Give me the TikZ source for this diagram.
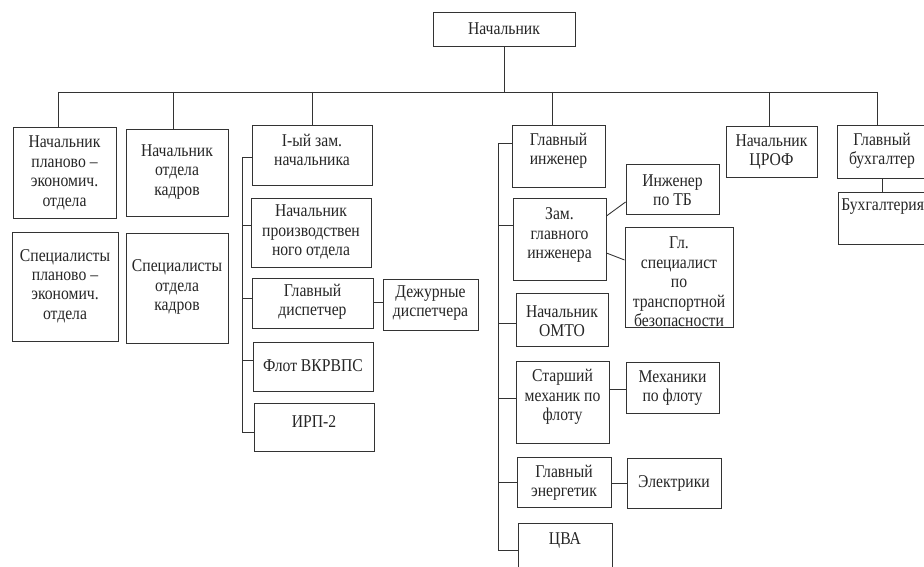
\documentclass[tikz,border=0pt]{standalone}
\usepackage{fontspec}
\setmainfont[FakeStretch=0.87]{Liberation Serif}
\begin{document}
\begin{tikzpicture}[x=0.75pt,y=-0.75pt,
  box/.style={draw=black!80,line width=0.65pt,rectangle,inner sep=0pt,fill=white},
  txt/.style={align=center,inner sep=0pt,font=\fontsize{13.5}{14.6}\selectfont,text=black!85},
  ln/.style={draw=black!80,line width=0.65pt}]
\useasboundingbox (0,0) rectangle (924,567);
\clip (0,0) rectangle (924,567);
\fill[white] (0,0) rectangle (924,567);
\newcommand\bxx[8]{%
  \pgfmathsetmacro\bw{(#4-#2)*0.75}%
  \pgfmathsetmacro\bh{(#5-#3)*0.75}%
  \node[box,minimum width=\bw pt,minimum height=\bh pt] (#1) at ({(#2+#4)/2},{(#3+#5)/2}) {};
  \node[txt] (#1t) at ({#6},{#7}) {#8};}
\newcommand\bx[7]{\bxx{#1}{#2}{#3}{#4}{#5}{(#2+#4)/2}{#6}{#7}}
% boxes
\bx{top}{433}{12}{575}{46}{29}{Начальник}
\bx{b1}{13}{127}{116}{218}{173}{Начальник\\планово –\\экономич.\\отдела}
\bx{b2}{126}{129}{228}{216}{172}{Начальник\\отдела\\кадров}
\bx{b1b}{12}{232}{118}{341}{286}{Специалисты\\планово –\\экономич.\\отдела}
\bx{b2b}{126}{233}{228}{343}{287}{Специалисты\\отдела\\кадров}
\bx{z1}{252}{125}{372}{185}{150}{I-ый зам.\\начальника}
\bx{prod}{251}{198}{371}{267}{232}{Начальник\\производствен\\ного отдела}
\bx{disp}{252}{278}{373}{328}{302}{Главный\\диспетчер}
\bx{duty}{383}{279}{478}{330}{303}{Дежурные\\диспетчера}
\bx{flot}{253}{342}{373}{391}{366}{Флот ВКРВПС}
\bx{irp}{254}{403}{374}{451}{422}{ИРП-2}
\bx{gi}{512}{125}{605}{187}{151}{Главный\\инженер}
\bx{zam}{513}{198}{606}{280}{235}{Зам.\\главного\\инженера}
\bx{tb}{626}{164}{719}{214}{190}{Инженер\\по ТБ}
\bx{gs}{625}{227}{733}{327}{282}{Гл.\\специалист\\по\\транспортной\\безопасности}
\bx{omto}{516}{293}{608}{346}{321}{Начальник\\ОМТО}
\bx{smech}{516}{361}{609}{443}{397}{Старший\\механик по\\флоту}
\bx{mech}{626}{362}{719}{413}{388}{Механики\\по флоту}
\bx{energ}{517}{457}{611}{507}{483}{Главный\\энергетик}
\bx{elec}{627}{458}{721}{508}{483}{Электрики}
\bx{cva}{518}{523}{612}{600}{540}{ЦВА}
\bx{crof}{726}{126}{817}{177}{152}{Начальник\\ЦРОФ}
\bxx{gb}{837}{125}{960}{178}{882}{151}{Главный\\бухгалтер}
\pgfmathsetmacro\bw{(960-838)*0.75}
\pgfmathsetmacro\bh{(244-192)*0.75}
\node[box,minimum width=\bw pt,minimum height=\bh pt] (buh) at (899,218) {};
\node[txt,anchor=west] (buht) at (841,207) {Бухгалтерия};
% bus and drops
\coordinate (bus) at (504,92);
\coordinate (j1) at (58,92);
\coordinate (j2) at (173,92);
\coordinate (j3) at (312,92);
\coordinate (j4) at (552,92);
\coordinate (j5) at (769,92);
\coordinate (j6) at (877,92);
\draw[ln] (top.south) -- (top.south |- bus);
\draw[ln] (j1) -- (j6);
\draw[ln] (j1) -- (j1 |- b1.north);
\draw[ln] (j2) -- (j2 |- b2.north);
\draw[ln] (j3) -- (j3 |- z1.north);
\draw[ln] (j4) -- (j4 |- gi.north);
\draw[ln] (j5) -- (j5 |- crof.north);
\draw[ln] (j6) -- (j6 |- gb.north);
% left spine
\coordinate (s1) at (242,157);
\coordinate (s2) at (242,432);
\draw[ln] (z1.west |- s1) -- (s1) -- (s2) -- (irp.west |- s2);
\draw[ln] (242,225) -- (prod.west |- 0,225);
\draw[ln] (242,298) -- (disp.west |- 0,298);
\draw[ln] (242,360) -- (flot.west |- 0,360);
\draw[ln] (disp.east |- 0,302) -- (duty.west |- 0,302);
% right spine
\coordinate (r1) at (498,143);
\coordinate (r2) at (498,550);
\draw[ln] (gi.west |- r1) -- (r1) -- (r2) -- (cva.west |- r2);
\draw[ln] (498,225) -- (zam.west |- 0,225);
\draw[ln] (498,323) -- (omto.west |- 0,323);
\draw[ln] (498,398) -- (smech.west |- 0,398);
\draw[ln] (498,482) -- (energ.west |- 0,482);
\draw[ln] (zam.east |- 0,216) -- (tb.west |- 0,202);
\draw[ln] (zam.east |- 0,253) -- (gs.west |- 0,260);
\draw[ln] (smech.east |- 0,389) -- (mech.west |- 0,389);
\draw[ln] (energ.east |- 0,483) -- (elec.west |- 0,483);
\draw[ln] (gb.south -| 882,0) -- (buh.north -| 882,0);
\end{tikzpicture}
\end{document}
